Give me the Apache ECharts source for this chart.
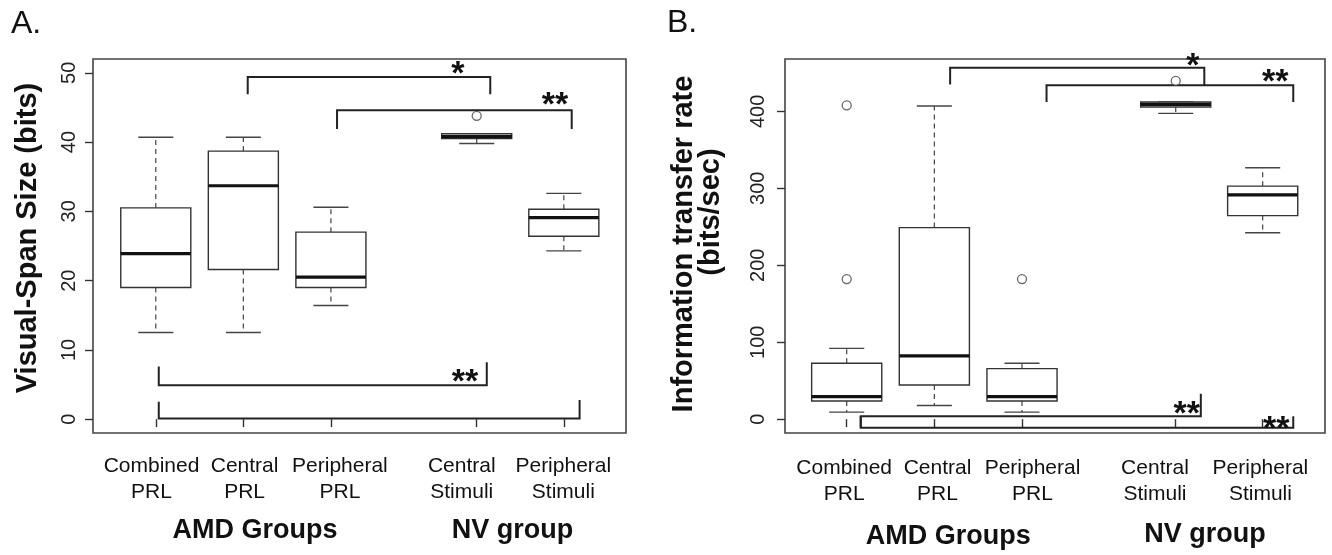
<!DOCTYPE html>
<html><head><meta charset="utf-8">
<script src="https://cdn.jsdelivr.net/npm/echarts@6/dist/echarts.min.js"></script>
<style>html,body{margin:0;padding:0;background:#fff}#c{width:1332px;height:555px}</style>
</head><body><div id="c"></div>
<script>
// ---------- data ----------
const categories = ['Combined\nPRL', 'Central\nPRL', 'Peripheral\nPRL', 'Central\nStimuli', 'Peripheral\nStimuli'];
const groupLabels = ['AMD Groups', 'NV group'];
// x position of each box on the axis (gap between AMD and NV groups)
const xPosA = [1, 2, 3, 4.665, 5.66];
const xPosB = [1, 2, 3, 4.754, 5.746];
// where the category names sit along the axis
const labelPosA = [0.951, 2.014, 3.103, 4.494, 5.654];
const labelPosB = [0.971, 2.036, 3.12, 4.517, 5.72];
// [lower whisker, Q1, median, Q3, upper whisker]
const spanBoxes = [
  [12.5, 19.0, 23.9, 30.5, 40.7],
  [12.5, 21.6, 33.7, 38.7, 40.7],
  [16.4, 19.0, 20.5, 27.0, 30.6],
  [39.8, 40.5, 40.8, 41.2, 41.2],
  [24.3, 26.4, 29.1, 30.3, 32.6]
];
const spanOutliers = [[3, 43.8]]; // [category index, value]
const rateBoxes = [
  [9.1, 23.5, 29.2, 72.6, 92],
  [17.8, 44.3, 82.1, 248.9, 407],
  [9.1, 23.5, 29.2, 65.7, 72.6],
  [397.4, 405.7, 409, 412.2, 412.2],
  [242.3, 264.5, 291.5, 302.8, 326.6]
];
const rateOutliers = [[0, 407.8], [0, 182], [2, 182], [3, 439.6]];
const spanTicks = [0, 10, 20, 30, 40, 50];
const rateTicks = [0, 100, 200, 300, 400];
// significance brackets: [xFrom, xTo, yBar, yLeftEnd, yRightEnd, labelX, labelY]
const spanBrackets = [
  [2.05, 4.82, 49.4, 46.9, 46.9, 4.45, 51.0],
  [3.07, 5.75, 44.6, 41.9, 41.9, 5.56, 46.6],
  [1.034, 4.78, 4.9, 7.6, 8.2, 4.53, 6.6],
  [1.034, 5.84, 0.1, 2.5, 2.75, null, null]
];
const spanBracketLabels = ['*', '**', '**', ''];
const rateBrackets = [
  [2.18, 5.08, 456.5, 434.8, 433.9, 4.95, 469.3],
  [3.28, 6.095, 433.9, 412.2, 412.2, 5.89, 449],
  [1.16, 5.04, 3.9, -11.2, 33, 4.88, 17],
  [1.16, 6.095, -11.2, 3.9, 3.9, 5.90, -1.3]
];
const rateBracketLabels = ['*', '**', '**', '**'];

// ---------- rendering ----------
const FONT = "'Liberation Sans', Arial, sans-serif";

function boxRender(params, api) {
  const x = api.value(0);
  const lw = api.value(1), q1 = api.value(2), med = api.value(3), q3 = api.value(4), uw = api.value(5);
  const half = 0.4, cap = 0.2;
  const P = (a, b) => api.coord([a, b]);
  const line = (p1, p2, style) => ({ type: 'line', shape: { x1: p1[0], y1: p1[1], x2: p2[0], y2: p2[1] }, style: style });
  const dash = { stroke: '#444', lineWidth: 1.2, lineDash: [5, 4] };
  const solid = { stroke: '#444', lineWidth: 1.4 };
  const tl = P(x - half, q3), br = P(x + half, q1);
  return {
    type: 'group',
    children: [
      line(P(x, q1), P(x, lw), dash),
      line(P(x, q3), P(x, uw), dash),
      line(P(x - cap, lw), P(x + cap, lw), solid),
      line(P(x - cap, uw), P(x + cap, uw), solid),
      { type: 'rect', shape: { x: tl[0], y: tl[1], width: br[0] - tl[0], height: br[1] - tl[1] }, style: { fill: '#fff', stroke: '#333', lineWidth: 1.4 } },
      line(P(x - half, med), P(x + half, med), { stroke: '#111', lineWidth: 3.2 })
    ]
  };
}

function bracketRenderer(labels) {
  return function (params, api) {
    const x1 = api.value(0), x2 = api.value(1), y = api.value(2), yl = api.value(3), yr = api.value(4);
    const lx = api.value(5), ly = api.value(6);
    const pts = [api.coord([x1, yl]), api.coord([x1, y]), api.coord([x2, y]), api.coord([x2, yr])];
    const children = [{ type: 'polyline', shape: { points: pts }, style: { stroke: '#222', lineWidth: 2, fill: null } }];
    const txt = labels[params.dataIndex];
    if (txt) {
      const p = api.coord([lx, ly]);
      children.push({ type: 'text', x: p[0], y: p[1] + 9, style: { text: txt, font: 'bold 34px ' + FONT, fill: '#111', align: 'center', verticalAlign: 'middle' } });
    }
    return { type: 'group', children: children };
  };
}

// category labels under the x axis
function catLabelRenderer(yMin, gap) {
  return function (params, api) {
    const p = api.coord([api.value(0), yMin]);
    return {
      type: 'text', x: p[0], y: p[1] + gap,
      style: { text: categories[params.dataIndex], font: '21px ' + FONT, lineHeight: 26, fill: '#111', align: 'center', verticalAlign: 'top' }
    };
  };
}

function xAxisFor(grid, pos, min, max) {
  return {
    type: 'value', gridIndex: grid, min: min, max: max,
    axisLine: { show: false }, splitLine: { show: false },
    axisTick: { show: true, customValues: pos, length: 8, lineStyle: { color: '#333', width: 1.4 } },
    axisLabel: { show: false, customValues: pos }
  };
}
function yAxisFor(grid, ticks, min, max, margin) {
  return {
    type: 'value', gridIndex: grid, min: min, max: max,
    axisLine: { show: false }, splitLine: { show: false },
    axisTick: { show: true, customValues: ticks, length: 8, lineStyle: { color: '#333', width: 1.4 } },
    axisLabel: { customValues: ticks, rotate: 90, margin: margin, color: '#222', fontSize: 20, fontFamily: FONT, showMinLabel: true, showMaxLabel: true, hideOverlap: false }
  };
}

function groupText(x, y, t) {
  return { type: 'text', x: x, y: y, style: { text: t, font: 'bold 27px ' + FONT, fill: '#111', align: 'center', verticalAlign: 'middle' } };
}

const Y_MIN_A = -2, Y_MAX_A = 52, Y_MIN_B = -18, Y_MAX_B = 468;

const chart = echarts.init(document.getElementById('c'), null, { renderer: 'canvas' });
chart.setOption({
  animation: false,
  backgroundColor: '#fff',
  grid: [
    { left: 93, top: 59, width: 533, height: 374, show: true, borderColor: '#444', borderWidth: 1.6, backgroundColor: 'transparent' },
    { left: 785, top: 59, width: 540, height: 374, show: true, borderColor: '#444', borderWidth: 1.6, backgroundColor: 'transparent' }
  ],
  xAxis: [xAxisFor(0, xPosA, 0.283, 6.37), xAxisFor(1, xPosB, 0.296, 6.457)],
  yAxis: [yAxisFor(0, spanTicks, Y_MIN_A, Y_MAX_A, 14), yAxisFor(1, rateTicks, Y_MIN_B, Y_MAX_B, 17)],
  series: [
    { type: 'custom', xAxisIndex: 0, yAxisIndex: 0, renderItem: boxRender, encode: { x: 0, y: [1, 2, 3, 4, 5] },
      data: spanBoxes.map((b, i) => [xPosA[i]].concat(b)) },
    { type: 'scatter', xAxisIndex: 0, yAxisIndex: 0, symbol: 'circle', symbolSize: 9,
      itemStyle: { color: '#fff', borderColor: '#444', borderWidth: 1.3 },
      data: spanOutliers.map(o => [xPosA[o[0]], o[1]]) },
    { type: 'custom', xAxisIndex: 0, yAxisIndex: 0, renderItem: bracketRenderer(spanBracketLabels), data: spanBrackets },
    { type: 'custom', xAxisIndex: 0, yAxisIndex: 0, clip: false, renderItem: catLabelRenderer(Y_MIN_A, 20), data: labelPosA.map(v => [v]) },
    { type: 'custom', xAxisIndex: 1, yAxisIndex: 1, renderItem: boxRender, encode: { x: 0, y: [1, 2, 3, 4, 5] },
      data: rateBoxes.map((b, i) => [xPosB[i]].concat(b)) },
    { type: 'scatter', xAxisIndex: 1, yAxisIndex: 1, symbol: 'circle', symbolSize: 9,
      itemStyle: { color: '#fff', borderColor: '#444', borderWidth: 1.3 },
      data: rateOutliers.map(o => [xPosB[o[0]], o[1]]) },
    { type: 'custom', xAxisIndex: 1, yAxisIndex: 1, renderItem: bracketRenderer(rateBracketLabels), data: rateBrackets },
    { type: 'custom', xAxisIndex: 1, yAxisIndex: 1, clip: false, renderItem: catLabelRenderer(Y_MIN_B, 22), data: labelPosB.map(v => [v]) }
  ],
  graphic: [
    { type: 'text', x: 11, y: 8, style: { text: 'A.', font: '32px ' + FONT, fill: '#111' } },
    { type: 'text', x: 667, y: 7, style: { text: 'B.', font: '32px ' + FONT, fill: '#111' } },
    { type: 'text', x: 28, y: 238, rotation: Math.PI / 2, style: { text: 'Visual-Span Size (bits)', font: 'bold 29px ' + FONT, fill: '#111', align: 'center', verticalAlign: 'middle' } },
    { type: 'text', x: 684, y: 244, rotation: Math.PI / 2, style: { text: 'Information transfer rate', font: 'bold 29px ' + FONT, fill: '#111', align: 'center', verticalAlign: 'middle' } },
    { type: 'text', x: 711, y: 212, rotation: Math.PI / 2, style: { text: '(bits/sec)', font: 'bold 29px ' + FONT, fill: '#111', align: 'center', verticalAlign: 'middle' } },
    groupText(255, 531, groupLabels[0]),
    groupText(512.6, 531, groupLabels[1]),
    groupText(948.3, 536.5, groupLabels[0]),
    groupText(1205, 534.5, groupLabels[1])
  ]
});
</script>
</body></html>
